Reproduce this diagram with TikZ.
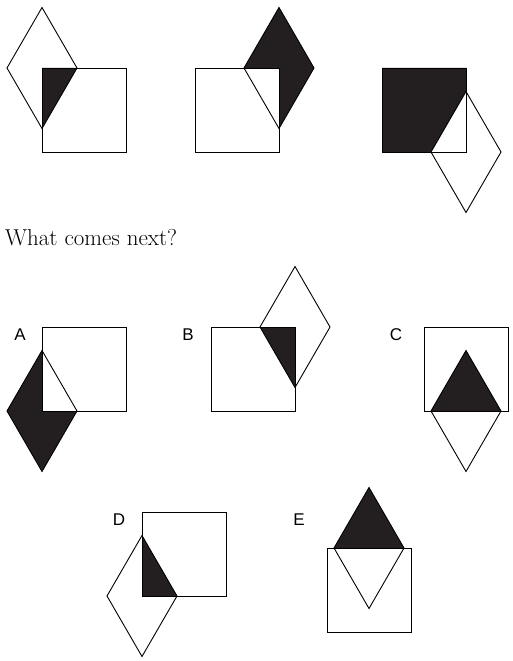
\documentclass[tikz,border=0pt]{standalone}
\usepackage{fontspec}
\newfontfamily\optfont{Liberation Sans}
\definecolor{figblack}{RGB}{35,31,32}

\begin{document}
\begin{tikzpicture}[x=1pt, y=-1pt]
            {
                \tikzset{outline/.style = {draw, line width=0.9pt, line join=miter}}
                \tikzset{blackpart/.style = {fill=figblack}}
                \tikzset{optlabel/.style = {font=\optfont\fontsize{17}{17}\selectfont, inner sep=0pt}}

                \useasboundingbox (0,0) rectangle (512,661);

                % black parts first
                \fill[blackpart] (42,68) -- (77,68) -- (42,128.5) -- cycle;
                \fill[blackpart] (244,68) -- (279,7.5) -- (314,68) -- (279,128.5) -- (279,68) -- cycle;
                \fill[blackpart] (382,68) -- (466,68) -- (466,91.5) -- (431,152) -- (382,152) -- cycle;

                \fill[blackpart] (42,350.5) -- (7,411) -- (42,471.5) -- (77,411) -- (42,411) -- cycle;
                \fill[blackpart] (260,327) -- (295,327) -- (295,387.5) -- cycle;
                \fill[blackpart] (431,411) -- (466,350.5) -- (501,411) -- cycle;
                \fill[blackpart] (142,535.5) -- (142,596) -- (177,596) -- cycle;
                \fill[blackpart] (334,548) -- (369,487.5) -- (404,548) -- cycle;

                % squares
                \draw[outline] (42,68) rectangle (126,152);
                \draw[outline] (195,68) rectangle (279,152);
                \draw[outline] (382,68) rectangle (466,152);
                \draw[outline] (42,327) rectangle (126,411);
                \draw[outline] (211,327) rectangle (295,411);
                \draw[outline] (424,327) rectangle (508,411);
                \draw[outline] (142,512) rectangle (226,596);
                \draw[outline] (327,548) rectangle (411,632);

                % diamonds
                \draw[outline] (42,7.5) -- (77,68) -- (42,128.5) -- (7,68) -- cycle;
                \draw[outline] (279,7.5) -- (314,68) -- (279,128.5) -- (244,68) -- cycle;
                \draw[outline] (466,91.5) -- (501,152) -- (466,212.5) -- (431,152) -- cycle;
                \draw[outline] (42,350.5) -- (77,411) -- (42,471.5) -- (7,411) -- cycle;
                \draw[outline] (295,266.5) -- (330,327) -- (295,387.5) -- (260,327) -- cycle;
                \draw[outline] (466,350.5) -- (501,411) -- (466,471.5) -- (431,411) -- cycle;
                \draw[outline] (142,535.5) -- (177,596) -- (142,656.5) -- (107,596) -- cycle;
                \draw[outline] (369,487.5) -- (404,548) -- (369,608.5) -- (334,548) -- cycle;

                \node[anchor=base west, inner sep=0pt, font=\fontsize{23}{23}\selectfont] (question) at (5,245) {What comes next?};

                \node[optlabel] (labA) at (20,335) {A};
                \node[optlabel] (labB) at (188,335) {B};
                \node[optlabel] (labC) at (396,335) {C};
                \node[optlabel] (labD) at (119,520) {D};
                \node[optlabel] (labE) at (299,520) {E};
            }
\end{tikzpicture}
\end{document}
